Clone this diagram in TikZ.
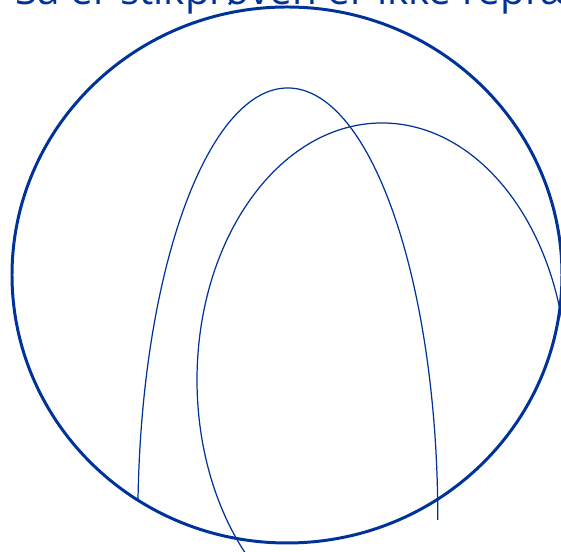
\documentclass[tikz,border=0pt]{standalone}
\usepackage{fontspec}
\setmainfont{Open Sans}
\usepackage{xcolor}
\usepackage{tikz}
\definecolor{samplblue}{RGB}{0,51,153}

\begin{document}
\begin{tikzpicture}[scale=0.02]
\useasboundingbox (0,0) rectangle (561,552);
\clip (0,0) rectangle (561,552);

% Title (cut off at the top)
\node[anchor=base west, inner sep=0pt, text=samplblue, font=\fontsize{23}{27}\selectfont] (title) at (15,547) {Så er stikprøven er ikke repræsentativ};

% Population
\draw[samplblue, line width=1.7pt] (287,277) ellipse [x radius=275, y radius=268];

% Sample distribution
\draw[samplblue, line width=0.7pt] (138,52) arc[start angle=177.35, end angle=0, x radius=150, y radius=432];

% Population distribution
\draw[samplblue, line width=0.7pt] (251.2,-9.7) arc[start angle=225, end angle=0, x radius=185, y radius=257];
\end{tikzpicture}
\end{document}
